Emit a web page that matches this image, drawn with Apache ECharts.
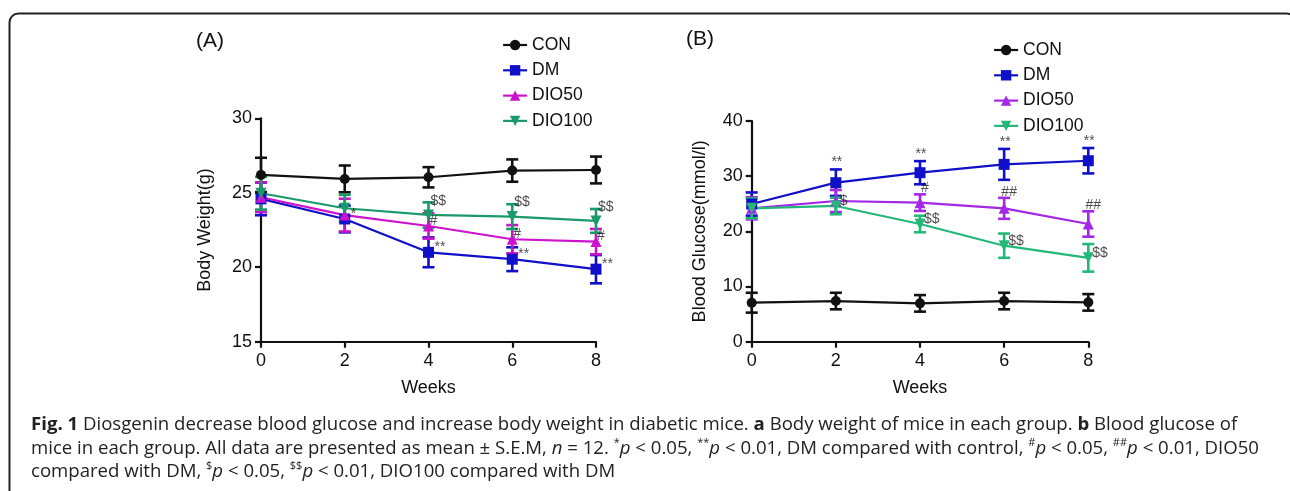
<!DOCTYPE html>
<html>
<head>
<meta charset="utf-8">
<script src="https://cdn.jsdelivr.net/npm/echarts@6/dist/echarts.min.js"></script>
<style>
html,body{margin:0;padding:0;background:#fff;}
#chart{width:1290px;height:491px;}
</style>
</head>
<body>
<div id="chart"></div>
<script>
// ---------- data ----------
const weeks = [0, 2, 4, 6, 8];
const groups = ['CON', 'DM', 'DIO50', 'DIO100'];

// Panel A: body weight (g), mean and S.E.M.
const bwCON = [26.2, 25.93, 26.04, 26.49, 26.53];
const bwCONsem = [1.15, 0.9, 0.68, 0.75, 0.9];
const bwDM = [24.59, 23.24, 21.0, 20.54, 19.87];
const bwDMsem = [1.1, 0.9, 1.0, 0.8, 0.95];
const bwDIO50 = [24.7, 23.5, 22.77, 21.88, 21.72];
const bwDIO50sem = [1.0, 1.1, 0.85, 0.95, 0.85];
const bwDIO100 = [24.97, 23.96, 23.51, 23.4, 23.11];
const bwDIO100sem = [1.1, 0.9, 0.85, 0.83, 0.8];

// Panel B: blood glucose (mmol/l), mean and S.E.M.
const bgCON = [7.07, 7.37, 6.95, 7.37, 7.13];
const bgCONsem = [1.8, 1.5, 1.5, 1.5, 1.5];
const bgDM = [24.95, 28.82, 30.63, 32.14, 32.8];
const bgDMsem = [2.1, 2.4, 2.1, 2.8, 2.3];
const bgDIO50 = [24.17, 25.5, 25.2, 24.17, 21.33];
const bgDIO50sem = [2.0, 2.0, 1.5, 1.9, 2.3];
const bgDIO100 = [24.17, 24.6, 21.33, 17.4, 15.2];
const bgDIO100sem = [1.8, 1.5, 1.5, 2.2, 2.5];

// significance marks
const annA_DM = ['', '*', '**', '**', '**'];
const annA_DIO50 = ['', '', '#', '#', '#'];
const annA_DIO100 = ['', '', '$$', '$$', '$$'];
const annB_DM = ['', '**', '**', '**', '**'];
const annB_DIO50 = ['', '', '#', '##', '##'];
const annB_DIO100 = ['', '$', '$$', '$$', '$$'];

// axis tick ranges
const bwTicks = [15, 20, 25, 30];
const bgTicks = [0, 10, 20, 30, 40];
const weekTicks = [0, 2, 4, 6, 8];

// ---------- styles ----------
const FONT = "'Liberation Sans', Arial, sans-serif";
const CAPFONT = "'Open Sans', 'Noto Sans', sans-serif";
const colA = {CON: '#111111', DM: '#1010c8', DIO50: '#cc12cc', DIO100: '#199a68'};
const colB = {CON: '#111111', DM: '#1010c8', DIO50: '#a426e6', DIO100: '#22b877'};
const sym = {CON: 'circle', DM: 'rect', DIO50: 'triangle', DIO100: 'triangle'};
const symRot = {CON: 0, DM: 0, DIO50: 0, DIO100: 180};
const symSize = {CON: 10, DM: 11, DIO50: 11, DIO100: 11};

const chart = echarts.init(document.getElementById('chart'), null, {renderer: 'canvas'});

function pairs(means) { return weeks.map((w, i) => [w, means[i]]); }

function lineSeries(name, means, color, idx) {
  return {
    type: 'line', name: name, xAxisIndex: idx, yAxisIndex: idx,
    data: pairs(means), symbol: sym[name], symbolSize: symSize[name], symbolRotate: symRot[name],
    itemStyle: {color: color}, lineStyle: {color: color, width: 2.2},
    z: 5, animation: false
  };
}

function errSeries(means, sems, color, idx) {
  return {
    type: 'custom', xAxisIndex: idx, yAxisIndex: idx,
    data: weeks.map((w, i) => [w, means[i], sems[i]]),
    renderItem: function (params, api) {
      const x = api.value(0), m = api.value(1), s = api.value(2);
      const top = api.coord([x, m + s]);
      const bot = api.coord([x, m - s]);
      const hw = 6;
      const st = {stroke: color, lineWidth: 2.6};
      return {type: 'group', children: [
        {type: 'line', shape: {x1: top[0], y1: top[1], x2: bot[0], y2: bot[1]}, style: st},
        {type: 'line', shape: {x1: top[0] - hw, y1: top[1], x2: top[0] + hw, y2: top[1]}, style: st},
        {type: 'line', shape: {x1: bot[0] - hw, y1: bot[1], x2: bot[0] + hw, y2: bot[1]}, style: st}
      ]};
    },
    z: 4, animation: false, silent: true
  };
}

function annSeries(marks, means, sems, idx, useTop, pos, offset) {
  const data = [];
  weeks.forEach((w, i) => {
    if (marks[i]) data.push({value: [w, means[i] + (useTop ? sems[i] : 0)], label: {formatter: marks[i]}});
  });
  return {
    type: 'scatter', xAxisIndex: idx, yAxisIndex: idx, data: data, symbolSize: 0,
    silent: true, animation: false, z: 6,
    label: {show: true, position: pos, distance: 0, offset: offset,
      fontFamily: FONT, fontSize: 14, color: '#222'}
  };
}

function xAxisCfg(idx) {
  return {
    type: 'value', gridIndex: idx, min: 0, max: 8, interval: 2,
    name: 'Weeks', nameLocation: 'middle', nameGap: 37,
    nameTextStyle: {fontFamily: FONT, fontSize: 18, color: '#111'},
    axisLine: {onZero: false, lineStyle: {color: '#111', width: 2.2}},
    axisTick: {show: true, length: 6, lineStyle: {color: '#111', width: 2.2}},
    axisLabel: {fontFamily: FONT, fontSize: 18, color: '#111', margin: 10,
      formatter: v => weekTicks.includes(v) ? String(v) : ''},
    splitLine: {show: false}
  };
}

function yAxisCfg(idx, ticks, name, gap) {
  return {
    type: 'value', gridIndex: idx, min: ticks[0], max: ticks[ticks.length - 1], interval: ticks[1] - ticks[0],
    name: name, nameLocation: 'middle', nameGap: gap,
    nameTextStyle: {fontFamily: FONT, fontSize: 18, color: '#111'},
    axisLine: {show: true, onZero: false, lineStyle: {color: '#111', width: 2.2}},
    axisTick: {show: true, length: 6, lineStyle: {color: '#111', width: 2.2}},
    axisLabel: {fontFamily: FONT, fontSize: 18, color: '#111', margin: 9},
    splitLine: {show: false}
  };
}

function legendCfg(left, top, cols) {
  return {
    orient: 'vertical', left: left, top: top, itemWidth: 24, itemHeight: 13, itemGap: 5.3,
    selectedMode: false,
    textStyle: {fontFamily: FONT, fontSize: 17.5, color: '#111', lineHeight: 20, padding: [0, 0, 0, 0]},
    data: groups.map(g => ({name: g, itemStyle: {color: cols[g]}, lineStyle: {color: cols[g], width: 2.2}}))
  };
}

const series = [];
// Panel A
series.push(lineSeries('CON', bwCON, colA.CON, 0));
series.push(lineSeries('DM', bwDM, colA.DM, 0));
series.push(lineSeries('DIO50', bwDIO50, colA.DIO50, 0));
series.push(lineSeries('DIO100', bwDIO100, colA.DIO100, 0));
series.push(errSeries(bwCON, bwCONsem, colA.CON, 0));
series.push(errSeries(bwDM, bwDMsem, colA.DM, 0));
series.push(errSeries(bwDIO50, bwDIO50sem, colA.DIO50, 0));
series.push(errSeries(bwDIO100, bwDIO100sem, colA.DIO100, 0));
series.push(annSeries(annA_DM, bwDM, bwDMsem, 0, false, 'right', [6, -5]));
series.push(annSeries(annA_DIO50, bwDIO50, bwDIO50sem, 0, false, 'right', [1, -5]));
series.push(annSeries(annA_DIO100, bwDIO100, bwDIO100sem, 0, false, 'right', [2, -14]));
// Panel B
series.push(lineSeries('CON', bgCON, colB.CON, 1));
series.push(lineSeries('DM', bgDM, colB.DM, 1));
series.push(lineSeries('DIO50', bgDIO50, colB.DIO50, 1));
series.push(lineSeries('DIO100', bgDIO100, colB.DIO100, 1));
series.push(errSeries(bgCON, bgCONsem, colB.CON, 1));
series.push(errSeries(bgDM, bgDMsem, colB.DM, 1));
series.push(errSeries(bgDIO50, bgDIO50sem, colB.DIO50, 1));
series.push(errSeries(bgDIO100, bgDIO100sem, colB.DIO100, 1));
series.push(annSeries(annB_DM, bgDM, bgDMsem, 1, true, 'inside', [1, -7]));
series.push(annSeries(annB_DIO50, bgDIO50, bgDIO50sem, 1, true, 'inside', [5, -6]));
series.push(annSeries(annB_DIO100, bgDIO100, bgDIO100sem, 1, false, 'right', [4, -5]));

const CAPSIZE = 18.6;
const capStyle = {fontFamily: CAPFONT, fontSize: CAPSIZE, fill: '#222', lineHeight: 23};
const rich = {
  b: {fontFamily: CAPFONT, fontSize: CAPSIZE, fontWeight: 'bold', color: '#222', lineHeight: 23},
  i: {fontFamily: CAPFONT, fontSize: CAPSIZE, fontStyle: 'italic', color: '#222', lineHeight: 23},
  s: {fontFamily: CAPFONT, fontSize: 11, color: '#222', verticalAlign: 'top', lineHeight: 14}
};
function capLine(text, y) {
  return {type: 'text', left: 31, top: y, silent: true,
    style: Object.assign({text: text, rich: rich}, capStyle)};
}

const option = {
  backgroundColor: '#fff',
  animation: false,
  grid: [
    {left: 261, top: 118.3, width: 335, height: 223.4},
    {left: 751.7, top: 121, width: 336.6, height: 220.7}
  ],
  xAxis: [xAxisCfg(0), xAxisCfg(1)],
  yAxis: [yAxisCfg(0, bwTicks, 'Body Weight(g)', 47), yAxisCfg(1, bgTicks, 'Blood Glucose(mmol/l)', 43)],
  legend: [legendCfg(497, 30, colA), legendCfg(988, 35, colB)],
  series: series,
  graphic: [
    {type: 'rect', silent: true, shape: {x: 9.5, y: 13.5, width: 1286, height: 520, r: 9},
      style: {fill: 'none', stroke: '#222', lineWidth: 2}},
    {type: 'text', left: 196, top: 31, silent: true, style: {text: '(A)', fontFamily: FONT, fontSize: 21, fill: '#111'}},
    {type: 'text', left: 686, top: 29, silent: true, style: {text: '(B)', fontFamily: FONT, fontSize: 21, fill: '#111'}},
    capLine('{b|Fig. 1} Diosgenin decrease blood glucose and increase body weight in diabetic mice. {b|a} Body weight of mice in each group. {b|b} Blood glucose of', 413.5),
    capLine('mice in each group. All data are presented as mean ± S.E.M, {i|n} = 12. {s|*}{i|p} < 0.05, {s|**}{i|p} < 0.01, DM compared with control, {s|#}{i|p} < 0.05, {s|##}{i|p} < 0.01, DIO50', 437),
    capLine('compared with DM, {s|$}{i|p} < 0.05, {s|$$}{i|p} < 0.01, DIO100 compared with DM', 460.5)
  ]
};
chart.setOption(option);
</script>
</body>
</html>
